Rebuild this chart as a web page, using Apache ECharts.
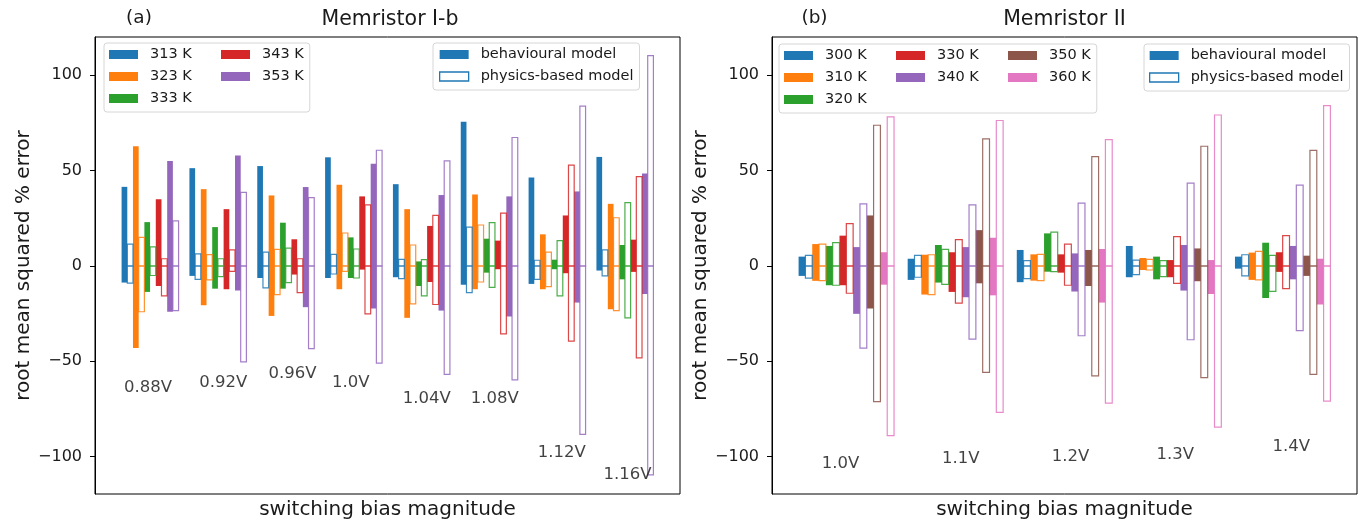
<!DOCTYPE html>
<html>
<head>
<meta charset="utf-8">
<script src="https://cdn.jsdelivr.net/npm/echarts@6/dist/echarts.min.js"></script>
<style>
  html, body { margin: 0; padding: 0; background: #fff; }
  #chart { width: 1361px; height: 521px; }
</style>
</head>
<body>
<div id="chart"></div>
<script>
// ---- panel (a): Memristor I-b ----
const voltagesA = ['0.88V', '0.92V', '0.96V', '1.0V', '1.04V', '1.08V', '1.12V', '1.16V'];
const tempsA = ['313 K', '323 K', '333 K', '343 K', '353 K'];
// one row per temperature, one value per bias
const behavHiA = [
  [41.5, 51.3, 52.4, 57.0, 42.9, 75.6, 46.4, 57.2],
  [62.8, 40.3, 37.0, 42.6, 29.8, 37.5, 16.6, 32.6],
  [23.0, 20.4, 22.7, 15.0, 2.4, 14.3, 3.3, 11.0],
  [35.0, 29.8, 14.0, 36.5, 21.0, 13.3, 26.5, 13.8],
  [55.0, 58.0, 41.4, 53.6, 37.2, 36.5, 39.1, 48.5]
];
const behavLoA = [
  [-8.7, -5.2, -6.3, -6.3, -5.9, -9.8, -9.4, -2.4],
  [-43.0, -20.6, -26.2, -12.2, -27.2, -12.2, -12.2, -22.7],
  [-13.6, -11.9, -11.9, -6.3, -10.5, -3.5, -1.7, -7.0],
  [-10.5, -12.2, -4.5, -1.9, -8.4, -1.7, -3.8, -3.1],
  [-24.0, -12.9, -21.6, -22.3, -23.4, -26.5, -19.2, -14.7]
];
const physHiA = [
  [11.5, 6.3, 7.3, 6.1, 3.5, 20.4, 3.0, 8.4],
  [15.0, 6.0, 8.7, 17.3, 11.0, 21.5, 7.3, 25.3],
  [10.0, 3.8, 9.4, 8.9, 3.3, 22.7, 13.3, 33.2],
  [3.8, 8.4, 3.8, 32.1, 26.5, 27.7, 52.9, 46.9],
  [23.7, 38.6, 35.8, 60.7, 55.1, 67.4, 83.8, 110.3]
];
const physLoA = [
  [-9.0, -7.0, -11.5, -4.2, -6.6, -14.0, -7.0, -5.2],
  [-24.0, -7.3, -15.0, -2.8, -19.9, -8.4, -10.8, -23.4],
  [-5.0, -5.6, -8.7, -6.3, -15.7, -11.2, -15.7, -27.2],
  [-15.7, -2.8, -14.0, -25.1, -20.2, -35.6, -39.4, -48.2],
  [-23.4, -50.3, -43.3, -51.0, -56.9, -59.7, -88.3, -109.6]
];
const labelXA = [0.39, 1.50, 2.52, 3.38, 4.50, 5.50, 6.49, 7.46];
const labelYA = [-63, -60, -55.5, -60, -68.5, -68.5, -97, -108.5];

// ---- panel (b): Memristor II ----
const voltagesB = ['1.0V', '1.1V', '1.2V', '1.3V', '1.4V'];
const tempsB = ['300 K', '310 K', '320 K', '330 K', '340 K', '350 K', '360 K'];
const behavHiB = [
  [4.9, 3.8, 8.4, 10.5, 4.9],
  [11.5, 5.9, 6.1, 4.2, 7.0],
  [10.5, 11.0, 17.1, 4.9, 12.2],
  [15.9, 7.2, 6.1, 3.1, 7.2],
  [9.9, 9.9, 6.6, 11.0, 10.5],
  [26.5, 18.8, 8.4, 9.2, 5.4],
  [7.2, 14.8, 8.9, 3.1, 3.8]
];
const behavLoB = [
  [-5.2, -7.3, -8.5, -5.9, -1.4],
  [-7.8, -15.0, -7.7, -2.1, -7.3],
  [-10.1, -8.7, -3.0, -7.0, -16.8],
  [-10.1, -13.6, -3.5, -5.9, -3.1],
  [-25.1, -16.4, -13.4, -12.9, -7.0],
  [-22.3, -9.1, -10.5, -8.0, -5.2],
  [-9.8, -15.4, -19.2, -14.7, -20.2]
];
const physHiB = [
  [5.6, 5.6, 2.8, 3.1, 5.9],
  [11.5, 5.9, 6.1, 3.5, 7.7],
  [12.2, 8.7, 17.8, 2.8, 5.6],
  [22.2, 13.8, 11.5, 15.4, 15.9],
  [32.6, 32.1, 33.0, 43.5, 42.4],
  [73.8, 66.7, 57.4, 62.8, 60.6],
  [78.2, 76.3, 66.3, 79.2, 84.1]
];
const physLoB = [
  [-6.4, -5.9, -6.6, -4.5, -5.2],
  [-7.7, -15.0, -7.7, -2.1, -7.3],
  [-10.1, -9.6, -3.0, -5.6, -13.3],
  [-14.3, -19.5, -10.1, -9.1, -11.9],
  [-43.1, -38.4, -36.6, -38.7, -33.9],
  [-71.2, -55.8, -57.6, -58.6, -56.9],
  [-89.0, -76.8, -71.9, -84.5, -70.9]
];
const labelXB = [0.385, 1.487, 2.493, 3.453, 4.516];
const labelYB = [-102.5, -100.3, -99, -98, -93.7];

const yTicks = [-100, -50, 0, 50, 100];
const palette = ['#1f77b4', '#ff7f0e', '#2ca02c', '#d62728', '#9467bd', '#8c564b', '#e377c2'];
const FONT = 'DejaVu Sans';
const TXT = '#1a1a1a';

// bar of width w starting at x, from lo to hi (hollow = outlined, split at zero)
function barSeries(panel, name, color, lo, hi, slot, w, hollow) {
  return {
    type: 'custom',
    name: name,
    xAxisIndex: panel,
    yAxisIndex: panel,
    silent: true,
    itemStyle: { color: color },
    data: lo.map((l, g) => [g + slot * w, l, hi[g]]),
    renderItem: function (params, api) {
      const x = api.value(0);
      const p0 = api.coord([x, 0]);
      const p1 = api.coord([x + w, 0]);
      const yHi = api.coord([x, api.value(2)])[1];
      const yLo = api.coord([x, api.value(1)])[1];
      const bw = p1[0] - p0[0];
      if (!hollow) {
        return {
          type: 'rect',
          shape: { x: p0[0], y: yHi, width: bw, height: yLo - yHi },
          style: { fill: color }
        };
      }
      const st = { fill: 'none', stroke: color, lineWidth: 1.2, opacity: 0.85 };
      return {
        type: 'group',
        children: [
          { type: 'rect', shape: { x: p0[0], y: yHi, width: bw, height: p0[1] - yHi }, style: st },
          { type: 'rect', shape: { x: p0[0], y: p0[1], width: bw, height: yLo - p0[1] }, style: st }
        ]
      };
    }
  };
}

function labelSeries(panel, names, xs, ys) {
  return {
    type: 'scatter',
    name: 'bias' + panel,
    xAxisIndex: panel,
    yAxisIndex: panel,
    silent: true,
    symbolSize: 0,
    data: names.map((n, i) => ({ name: n, value: [xs[i], ys[i]] })),
    label: {
      show: true, position: 'inside', formatter: '{b}', offset: [0, 2],
      fontSize: 16.5, fontFamily: FONT, color: '#111', textBorderWidth: 0
    }
  };
}

const series = [];
const wA = 0.084, wB = 0.0625;
tempsA.forEach((t, i) => {
  series.push(barSeries(0, t, palette[i], behavLoA[i], behavHiA[i], 2 * i, wA, false));
});
tempsA.forEach((t, i) => {
  series.push(barSeries(0, t + ' phys', palette[i], physLoA[i], physHiA[i], 2 * i + 1, wA, true));
});
tempsB.forEach((t, i) => {
  series.push(barSeries(1, t, palette[i], behavLoB[i], behavHiB[i], 2 * i, wB, false));
});
tempsB.forEach((t, i) => {
  series.push(barSeries(1, t + ' phys', palette[i], physLoB[i], physHiB[i], 2 * i + 1, wB, true));
});
series.push({ type: 'custom', name: 'behavioural model', data: [], renderItem: () => null });
series.push({ type: 'custom', name: 'physics-based model', data: [], renderItem: () => null });
series.push(labelSeries(0, voltagesA, labelXA, labelYA));
series.push(labelSeries(1, voltagesB, labelXB, labelYB));

function xAxisFor(idx, n, w, nb) {
  const span = (n - 1) + nb * w;
  return {
    type: 'value', gridIndex: idx,
    min: -0.05 * span, max: span * 1.05,
    axisLine: { show: false, onZero: false }, axisTick: { show: false },
    axisLabel: { show: false }, splitLine: { show: false },
    name: 'switching bias magnitude', nameLocation: 'middle', nameGap: 6,
    nameTextStyle: { fontSize: 20, fontFamily: FONT, color: TXT, verticalAlign: 'top' }
  };
}

function yAxisFor(idx) {
  return {
    type: 'value', gridIndex: idx,
    min: -119.6, max: 120.1,
    axisLine: { show: true, onZero: false, lineStyle: { color: '#000', width: 1 } },
    axisTick: { show: true, length: 5, customValues: yTicks, lineStyle: { color: '#000' } },
    axisLabel: {
      customValues: yTicks, margin: 13, fontSize: 16, fontFamily: FONT, color: TXT,
      formatter: v => String(v).replace('-', '\u2212')
    },
    splitLine: { show: false },
    name: 'root mean squared % error', nameLocation: 'middle', nameGap: 61,
    nameTextStyle: { fontSize: 20, fontFamily: FONT, color: TXT }
  };
}

const legendText = { fontSize: 14.5, fontFamily: FONT, color: TXT, lineHeight: 17, padding: [0, 0, 0, 7] };
const legendBase = {
  icon: 'rect', itemWidth: 29, itemHeight: 9, itemGap: 5,
  backgroundColor: 'rgba(255,255,255,0.85)', borderColor: '#d6d6d6', borderWidth: 1, borderRadius: 3,
  selectedMode: false, textStyle: legendText
};
// legend entries in matplotlib's column-major order; wide = pad text to the column pitch
function tempItem(temps, i, wide) {
  const item = { name: temps[i], itemStyle: { color: palette[i], borderWidth: 0 } };
  if (wide) item.textStyle = { width: 66 };
  return item;
}
const tempLegendA = [0, 1, 2, 3, 4].map(i => tempItem(tempsA, i, i < 3));
// row-major for a horizontal legend: rows (300,330,350) (310,340,360) (320)
const tempLegendB = [0, 3, 5, 1, 4, 6, 2].map(i => tempItem(tempsB, i, i < 5));
const modelItems = [
  { name: 'behavioural model', itemStyle: { color: '#1f77b4', borderWidth: 0 } },
  { name: 'physics-based model', itemStyle: { color: '#fff', borderColor: '#1f77b4', borderWidth: 1.3 } }
];

const gridBase = { top: 37, width: 585, height: 457, show: true, borderColor: '#000', borderWidth: 1, backgroundColor: 'transparent', containLabel: false, outerBoundsMode: 'none' };

const chart = echarts.init(document.getElementById('chart'), null, { renderer: 'canvas' });
chart.setOption({
  animation: false,
  backgroundColor: '#fff',
  grid: [
    Object.assign({ left: 95 }, gridBase),
    Object.assign({ left: 772 }, gridBase)
  ],
  xAxis: [xAxisFor(0, voltagesA.length, wA, 10), xAxisFor(1, voltagesB.length, wB, 14)],
  yAxis: [yAxisFor(0), yAxisFor(1)],
  legend: [
    Object.assign({}, legendBase, { orient: 'vertical', left: 104, top: 43, height: 62, padding: [3, 6, 5, 5], data: tempLegendA }),
    Object.assign({}, legendBase, { orient: 'vertical', left: 433, top: 43, padding: [3, 6, 5, 6], data: modelItems }),
    Object.assign({}, legendBase, { orient: 'horizontal', left: 779, top: 44, width: 310, padding: [3, 6, 5, 5], data: tempLegendB }),
    Object.assign({}, legendBase, { orient: 'vertical', left: 1144, top: 44, padding: [3, 6, 5, 5], data: modelItems })
  ],
  graphic: [
    { type: 'text', x: 139, y: 18.5, style: { text: '(a)', font: '18.5px "DejaVu Sans"', fill: TXT, align: 'center', verticalAlign: 'middle' } },
    { type: 'text', x: 390, y: 20, style: { text: 'Memristor I-b', font: '20.5px "DejaVu Sans"', fill: TXT, align: 'center', verticalAlign: 'middle' } },
    { type: 'text', x: 814.5, y: 18.5, style: { text: '(b)', font: '18.5px "DejaVu Sans"', fill: TXT, align: 'center', verticalAlign: 'middle' } },
    { type: 'text', x: 1064.5, y: 20, style: { text: 'Memristor II', font: '20.5px "DejaVu Sans"', fill: TXT, align: 'center', verticalAlign: 'middle' } }
  ],
  series: series
});
</script>
</body>
</html>
